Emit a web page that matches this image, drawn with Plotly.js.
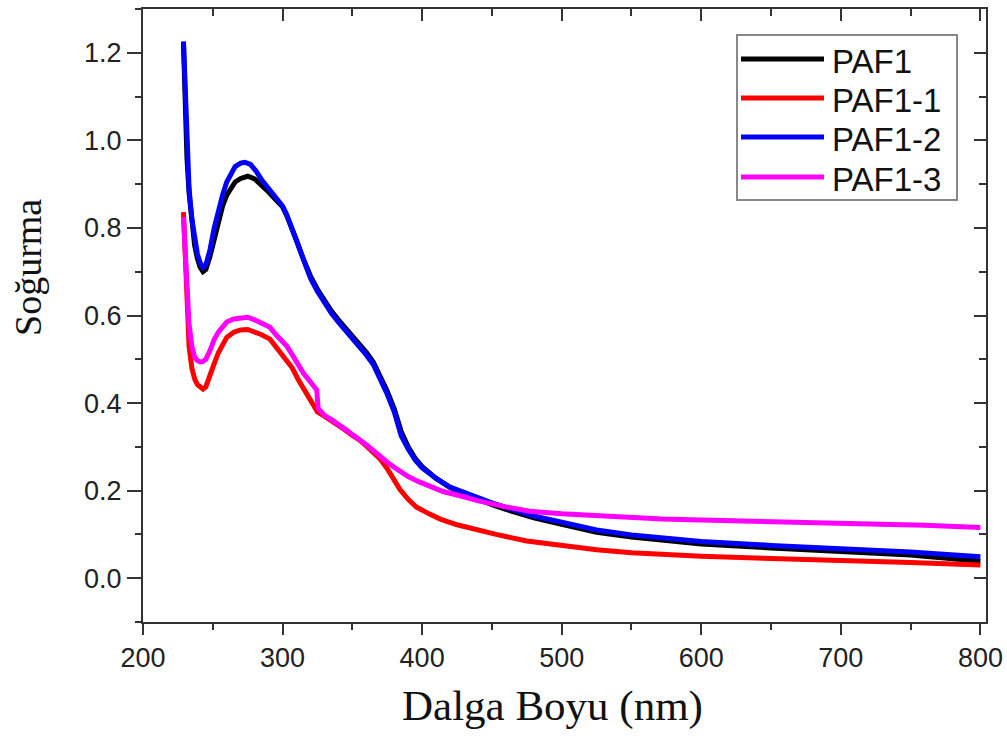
<!DOCTYPE html>
<html>
<head>
<meta charset="utf-8">
<script src="https://cdn.plot.ly/plotly-3.0.1.min.js"></script>
<style>html,body{margin:0;padding:0;background:#fff;}#chart{width:1007px;height:736px;}</style>
</head>
<body>
<div id="chart"></div>
<script>
var seriesNames = ["PAF1", "PAF1-1", "PAF1-2", "PAF1-3"];
var seriesColors = ["#000000", "#ff0000", "#0000ff", "#ff00ff"];

var paf1X = [229,230,231.5,233,235,237,239,241,243,245,248,251,254,257,260,263,266,270,275,280,285,290,295,300,303,306,310,315,320,325,330,335,340,345,350,355,360,365,370,375,380,385,390,395,400,410,420,430,440,450,460,480,500,525,550,575,600,650,700,750,800];
var paf1Y = [1.22,1.11,0.96,0.88,0.81,0.76,0.73,0.71,0.70,0.705,0.735,0.775,0.815,0.85,0.875,0.893,0.905,0.913,0.918,0.912,0.898,0.882,0.865,0.848,0.828,0.805,0.772,0.728,0.69,0.66,0.633,0.61,0.59,0.572,0.555,0.537,0.516,0.494,0.462,0.427,0.387,0.335,0.3,0.274,0.255,0.228,0.207,0.193,0.18,0.168,0.157,0.138,0.123,0.105,0.094,0.086,0.078,0.069,0.062,0.053,0.039];

var paf11X = [229,230,231,232,233,235,237,239,241,243,245,248,251,254,257,260,265,270,275,280,285,291,295,300,303,307,311,315,319,323,325,330,335,340,345,350,355,360,365,370,375,380,384,390,396,405,413,425,440,453,475,500,525,550,575,600,650,700,750,800];
var paf11Y = [0.836,0.76,0.66,0.58,0.53,0.48,0.455,0.442,0.435,0.432,0.437,0.46,0.49,0.515,0.535,0.55,0.562,0.567,0.568,0.563,0.556,0.546,0.53,0.512,0.5,0.48,0.455,0.432,0.41,0.388,0.38,0.37,0.36,0.35,0.338,0.326,0.316,0.302,0.288,0.272,0.25,0.225,0.203,0.18,0.162,0.147,0.135,0.122,0.11,0.1,0.085,0.074,0.065,0.058,0.054,0.05,0.045,0.041,0.036,0.03];

var paf12X = [229,230,231.5,233,235,237,239,241,243,245,248,251,254,257,260,263,266,270,273,277,281,285,290,295,300,303,306,310,315,320,325,330,335,340,345,350,355,360,365,370,375,380,385,390,395,400,410,420,430,440,450,460,480,500,525,550,575,600,650,700,750,800];
var paf12Y = [1.226,1.12,0.97,0.89,0.82,0.77,0.74,0.72,0.71,0.715,0.75,0.8,0.84,0.875,0.905,0.925,0.94,0.948,0.95,0.945,0.93,0.91,0.89,0.87,0.85,0.83,0.805,0.77,0.725,0.685,0.655,0.628,0.605,0.585,0.567,0.55,0.532,0.51,0.488,0.455,0.42,0.38,0.325,0.295,0.27,0.252,0.228,0.208,0.195,0.183,0.172,0.162,0.142,0.128,0.11,0.099,0.092,0.084,0.075,0.068,0.06,0.049];

var paf13X = [229,230,231,232,233,235,237,239,241,243,245,248,251,254,257,260,265,270,275,280,285,291,295,300,303,307,311,315,320,324.5,325.5,330,335,340,345,350,355,360,365,370,375,382,390,398,405,415,430,441,460,477,500,525,550,572,600,650,683,720,760,800];
var paf13Y = [0.825,0.76,0.68,0.62,0.58,0.53,0.505,0.497,0.494,0.495,0.5,0.52,0.545,0.562,0.575,0.585,0.592,0.595,0.596,0.59,0.583,0.573,0.557,0.54,0.53,0.51,0.488,0.468,0.448,0.43,0.388,0.372,0.362,0.352,0.34,0.328,0.318,0.305,0.292,0.278,0.265,0.249,0.232,0.22,0.21,0.198,0.186,0.176,0.163,0.153,0.147,0.142,0.138,0.135,0.133,0.13,0.128,0.125,0.121,0.116];

var xTickVals = [200,300,400,500,600,700,800];
var yTickVals = [0.0,0.2,0.4,0.6,0.8,1.0,1.2];
var yTickText = ["0.0","0.2","0.4","0.6","0.8","1.0","1.2"];

var xs = [paf1X, paf11X, paf12X, paf13X];
var ys = [paf1Y, paf11Y, paf12Y, paf13Y];
var traces = seriesNames.map(function(n, i) {
  return {x: xs[i], y: ys[i], name: n, type: 'scatter', mode: 'lines',
          line: {color: seriesColors[i], width: 5}, showlegend: false};
});
// invisible carrier so the mirrored top/right frame axes are drawn
traces.push({x: paf1X, y: paf1Y, xaxis: 'x2', yaxis: 'y2', type: 'scatter', mode: 'lines',
             line: {width: 0}, opacity: 0, showlegend: false, hoverinfo: 'skip'});

// plot area in pixels (for placing the hand-drawn legend)
var M = {l: 143, r: 21, t: 9, b: 114};
var W = 1007, H = 736;
var pw = W - M.l - M.r, ph = H - M.t - M.b;
function px2x(p) { return (p - M.l) / pw; }
function py2y(p) { return (H - M.b - p) / ph; }

var legBox = {x0: 737, x1: 957, y0: 35, y1: 200};
var legRowY = [59, 98, 137, 177];
var legLineX = [741, 824];
var legTextX = 830;

var shapes = [{type: 'rect', xref: 'paper', yref: 'paper',
  x0: px2x(legBox.x0), x1: px2x(legBox.x1), y0: py2y(legBox.y1), y1: py2y(legBox.y0),
  line: {color: '#888', width: 2}, fillcolor: '#fff', layer: 'above'}];
var annotations = [];
seriesNames.forEach(function(n, i) {
  shapes.push({type: 'line', xref: 'paper', yref: 'paper',
    x0: px2x(legLineX[0]), x1: px2x(legLineX[1]), y0: py2y(legRowY[i]), y1: py2y(legRowY[i]),
    line: {color: seriesColors[i], width: 5}, layer: 'above'});
  annotations.push({text: n, xref: 'paper', yref: 'paper', x: px2x(legTextX), y: py2y(legRowY[i] + 2),
    xanchor: 'left', yanchor: 'middle', showarrow: false,
    font: {family: 'Liberation Sans, Arial, sans-serif', size: 33, color: '#111'}});
});
annotations.push({text: 'Dalga Boyu (nm)', xref: 'paper', yref: 'paper', x: px2x(552), y: py2y(706),
  xanchor: 'center', yanchor: 'middle', showarrow: false,
  font: {family: 'Liberation Serif, Times New Roman, serif', size: 43, color: '#111'}});
annotations.push({text: 'Soğurma', xref: 'paper', yref: 'paper', x: px2x(28), y: py2y(268), textangle: -90,
  xanchor: 'center', yanchor: 'middle', showarrow: false,
  font: {family: 'Liberation Serif, Times New Roman, serif', size: 38, color: '#111'}});

var tickFont = {family: 'Liberation Sans, Arial, sans-serif', size: 27, color: '#222'};
var axCol = '#333';
var xRange = [200, 804];
var yRange = [-0.1, 1.3];

var layout = {
  width: W, height: H,
  margin: M,
  paper_bgcolor: '#fff', plot_bgcolor: '#fff',
  showlegend: false,
  xaxis: {range: xRange, tickvals: xTickVals, ticks: 'outside', ticklen: 11, tickwidth: 2,
          tickcolor: axCol, showline: true, linecolor: axCol, linewidth: 2,
          showgrid: false, zeroline: false, tickfont: tickFont,
          minor: {dtick: 50, ticks: 'outside', ticklen: 6, tickwidth: 2, tickcolor: axCol, showgrid: false}},
  yaxis: {range: yRange, tickvals: yTickVals, ticktext: yTickText, ticks: 'outside', ticklen: 14, tickwidth: 2,
          tickcolor: axCol, showline: true, linecolor: axCol, linewidth: 2,
          showgrid: false, zeroline: false, tickfont: tickFont,
          minor: {dtick: 0.1, tick0: 0, ticks: 'outside', ticklen: 6, tickwidth: 2, tickcolor: axCol, showgrid: false}},
  xaxis2: {range: xRange, overlaying: 'x', side: 'top', anchor: 'y2', tickvals: xTickVals, ticks: 'inside', ticklen: 12, tickwidth: 2,
           tickcolor: axCol, showline: true, linecolor: axCol, linewidth: 2, showticklabels: false,
           showgrid: false, zeroline: false,
           minor: {dtick: 50, ticks: 'inside', ticklen: 7, tickwidth: 2, tickcolor: axCol, showgrid: false}},
  yaxis2: {range: yRange, overlaying: 'y', side: 'right', anchor: 'x2', tickvals: yTickVals, ticks: 'inside', ticklen: 12, tickwidth: 2,
           tickcolor: axCol, showline: true, linecolor: axCol, linewidth: 2, showticklabels: false,
           showgrid: false, zeroline: false,
           minor: {dtick: 0.1, tick0: 0, ticks: 'inside', ticklen: 7, tickwidth: 2, tickcolor: axCol, showgrid: false}},
  shapes: shapes,
  annotations: annotations
};

Plotly.newPlot('chart', traces, layout, {displayModeBar: false, staticPlot: true});
</script>
</body>
</html>
